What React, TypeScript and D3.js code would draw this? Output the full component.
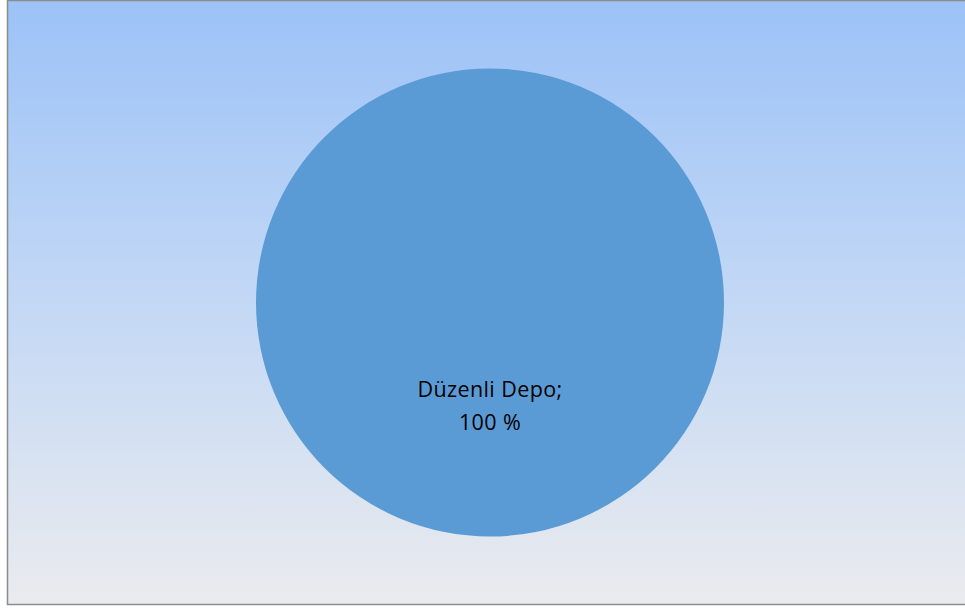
import React from "react";
import * as d3 from "d3";

const categories = ["Düzenli Depo"];
const values = [100];
const colors = ["#5B9BD5"];

const W = 965;
const H = 608;

export default function App() {
  const cx = 490;
  const cy = 302.5;
  const r = 234;
  const pie = d3.pie<number>().sort(null)(values);
  const arc = d3.arc<d3.PieArcDatum<number>>().innerRadius(0).outerRadius(r);
  const total = d3.sum(values);
  return (
    <svg
      width={W}
      height={H}
      style={{ position: "absolute", left: 0, top: 0 }}
      xmlns="http://www.w3.org/2000/svg"
    >
      <defs>
        <linearGradient id="bg" x1="0" y1="0" x2="0" y2="1">
          <stop offset="0" stopColor="#9CC2F7" />
          <stop offset="0.5" stopColor="#C3D8F5" />
          <stop offset="1" stopColor="#EAEBEE" />
        </linearGradient>
      </defs>
      <rect x={7.5} y={0.5} width={W + 10} height={604} fill="url(#bg)" stroke="#8C8C8C" strokeWidth={1.5} />
      <g transform={`translate(${cx},${cy})`}>
        {pie.map((p, i) => (
          <path key={i} d={arc(p) || ""} fill={colors[i]} />
        ))}
        {pie.map((p, i) => (
          <text
            key={"t" + i}
            textAnchor="middle"
            fontFamily="'Open Sans', 'Noto Sans', sans-serif"
            fontSize={21.5}
            letterSpacing={0.4}
            fill="#000"
          >
            <tspan x={0} y={94}>{`${categories[i]};`}</tspan>
            <tspan x={0} y={127}>{`${Math.round((p.value / total) * 100)} %`}</tspan>
          </text>
        ))}
      </g>
    </svg>
  );
}
